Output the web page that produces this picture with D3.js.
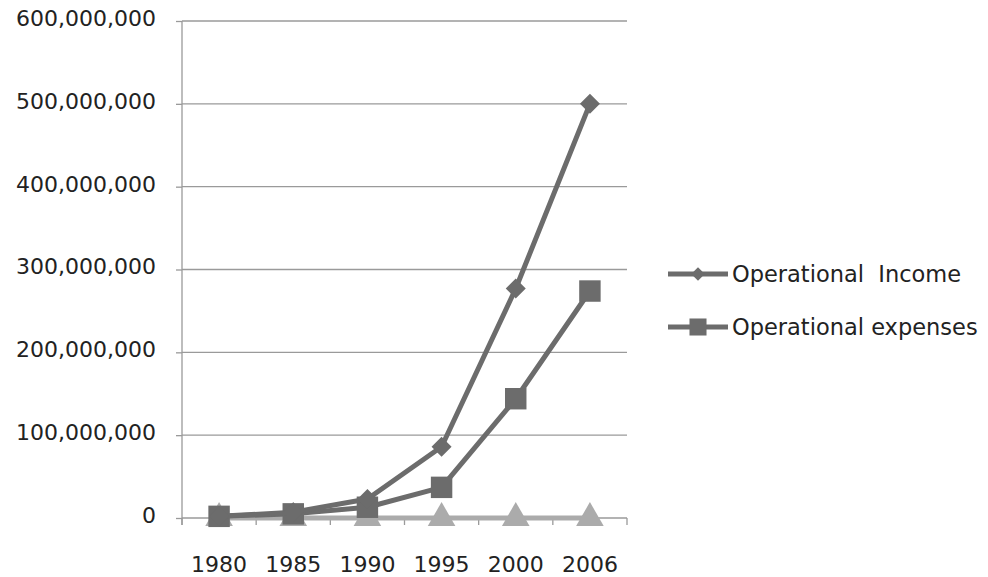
<!DOCTYPE html>
<html>
<head>
<meta charset="utf-8">
<script src="https://cdn.jsdelivr.net/npm/d3@7"></script>
<style>
  body { margin: 0; background: #fff; }
  svg text { font-family: "DejaVu Sans", sans-serif; fill: #222; white-space: pre; }
</style>
</head>
<body>
<svg id="chart" width="988" height="577"></svg>
<script>
var years = ['1980', '1985', '1990', '1995', '2000', '2006'];
var incomeValues = [2e6, 7e6, 23e6, 86e6, 277e6, 500e6];
var expenseValues = [2e6, 5e6, 13e6, 37e6, 144e6, 274e6];
var otherValues = [0, 0, 0, 0, 0, 0];
var yTicks = [0, 1e8, 2e8, 3e8, 4e8, 5e8, 6e8];
var legendLabels = ['Operational  Income', 'Operational expenses'];

var svg = d3.select('#chart');
var margin = {top: 21, left: 182},
    width = 445, height = 497;
var fontSize = '22px';

var x = d3.scaleBand().domain(years).range([0, width]);
var y = d3.scaleLinear().domain([0, 6e8]).range([height, 0]);

var g = svg.append('g').attr('transform', 'translate(' + margin.left + ',' + margin.top + ')');

// gridlines
g.selectAll('.grid').data(yTicks.slice(1)).enter().append('line')
  .attr('x1', 0).attr('x2', width)
  .attr('y1', function(d) { return y(d); }).attr('y2', function(d) { return y(d); })
  .attr('stroke', '#9a9a9a').attr('stroke-width', 1.3);

// y axis
var yAxis = g.append('g').call(d3.axisLeft(y).tickValues(yTicks).tickSize(6).tickPadding(20)
  .tickFormat(d3.format(',')));
yAxis.select('.domain').attr('stroke', '#9a9a9a').attr('stroke-width', 1.3).attr('d', 'M0,0V' + (height + 7));
yAxis.selectAll('.tick line').attr('stroke', '#9a9a9a').attr('stroke-width', 1.3);
yAxis.selectAll('.tick text').style('font-size', fontSize).attr('fill', '#222').attr('dy', '0.2em');

// x axis
var xa = g.append('g').attr('transform', 'translate(0,' + height + ')');
xa.append('line').attr('x1', 0).attr('x2', width).attr('stroke', '#9a9a9a').attr('stroke-width', 1.3);
var bounds = years.map(function(d) { return x(d); }).concat([width]);
xa.selectAll('.xt').data(bounds).enter().append('line')
  .attr('x1', function(d) { return d; }).attr('x2', function(d) { return d; })
  .attr('y1', 0).attr('y2', 7).attr('stroke', '#9a9a9a').attr('stroke-width', 1.3);
xa.selectAll('.xl').data(years).enter().append('text')
  .attr('x', function(d) { return x(d) + x.bandwidth() / 2; })
  .attr('y', 54).attr('text-anchor', 'middle').style('font-size', fontSize).text(function(d) { return d; });

var line = d3.line().x(function(d, i) { return x(years[i]) + x.bandwidth() / 2; }).y(function(d) { return y(d); });

function series(vals, color, symbol, size, rot) {
  g.append('path').datum(vals).attr('d', line).attr('fill', 'none')
    .attr('stroke', color).attr('stroke-width', 5).attr('stroke-linejoin', 'round');
  g.selectAll(null).data(vals).enter().append('path')
    .attr('d', d3.symbol().type(symbol).size(size))
    .attr('transform', function(d, i) {
      return 'translate(' + (x(years[i]) + x.bandwidth() / 2) + ',' + y(d) + ') rotate(' + rot + ')';
    })
    .attr('fill', color);
}

series(otherValues, '#ababab', d3.symbolTriangle, 330, 0);
series(expenseValues, '#6c6c6c', d3.symbolSquare, 460, 0);
series(incomeValues, '#6c6c6c', d3.symbolSquare, 200, 45);

// legend
var leg = svg.append('g');
var legY = [274, 327];
var legSym = [d3.symbolSquare, d3.symbolSquare];
var legSize = [90, 290];
var legRot = [45, 0];
legendLabels.forEach(function(t, i) {
  leg.append('line').attr('x1', 668).attr('x2', 728).attr('y1', legY[i]).attr('y2', legY[i])
    .attr('stroke', '#6c6c6c').attr('stroke-width', 5);
  leg.append('path').attr('d', d3.symbol().type(legSym[i]).size(legSize[i])())
    .attr('transform', 'translate(698,' + legY[i] + ') rotate(' + legRot[i] + ')').attr('fill', '#6c6c6c');
  leg.append('text').attr('x', 732).attr('y', legY[i] + 8).style('font-size', '22.5px').text(t);
});
</script>
</body>
</html>
